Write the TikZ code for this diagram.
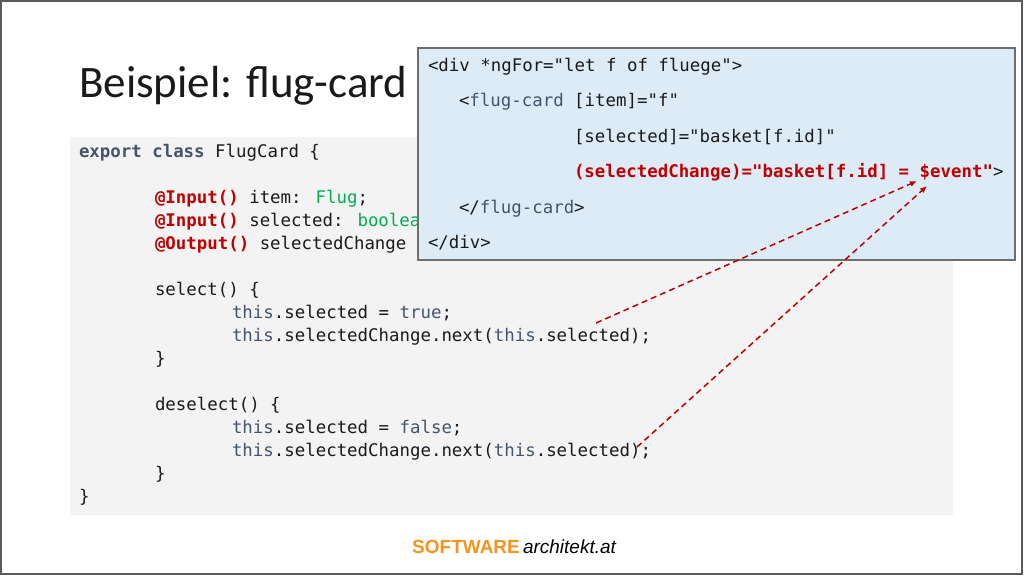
\documentclass[tikz,border=0pt]{standalone}
\usepackage{fontspec}
\usetikzlibrary{arrows.meta}
\newfontfamily\codefont{DejaVu Sans Mono}
\newfontfamily\titlefont{Carlito}
\newfontfamily\footfont{Liberation Sans}
\definecolor{kw}{HTML}{44546A}
\definecolor{redc}{HTML}{C00000}
\definecolor{greenc}{HTML}{00B050}
\definecolor{panel}{HTML}{F3F3F3}
\definecolor{boxblue}{HTML}{DDEBF7}
\definecolor{boxline}{HTML}{6E6E6E}
\definecolor{frame}{HTML}{5A5A5A}
\definecolor{orangec}{HTML}{F7941D}
\definecolor{txt}{HTML}{1A1A1A}
\tikzset{
  codeline/.style={anchor=base west, inner sep=0pt, outer sep=0pt, text=txt, font=\codefont\fontsize{17.4}{20}\selectfont},
  flowarrow/.style={draw=redc, line width=1.5pt, dash pattern=on 6pt off 4pt, -{Latex[length=7pt,width=6pt]}},
}
\newcommand{\kwd}[1]{\textcolor{kw}{#1}}
\newcommand{\kwb}[1]{\textcolor{kw}{\bfseries #1}}
\newcommand{\ann}[1]{\textcolor{redc}{\bfseries #1}}
\newcommand{\typ}[1]{\textcolor{greenc}{#1}}
\begin{document}
\begin{tikzpicture}[x=1pt,y=-1pt]
\useasboundingbox (0,0) rectangle (1024,576);
\fill[white] (0,0) rectangle (1024,576);
\draw[frame, line width=1.3pt] (1,1) rectangle (1022,574);

% title
\node[anchor=base west, inner sep=0pt, text=txt, font=\titlefont\fontsize{45}{50}\selectfont] (title) at (79,97) {Beispiel: flug-card};

% code panel
\fill[panel] (70,137) rectangle (953,515);
\node[codeline] (c1) at (79,157) {\kwb{export class} FlugCard \{};
\node[codeline] (c3) at (155,203) {\ann{@Input()} item: \typ{Flug};};
\node[codeline] (c4) at (155,226) {\ann{@Input()} selected: \typ{boolea}};
\node[codeline] (c5) at (155,249) {\ann{@Output()} selectedChange};
\node[codeline] (c7) at (155,295) {select() \{};
\node[codeline] (c8) at (232,318) {\kwd{this}.selected = \kwd{true};};
\node[codeline] (c9) at (232,341) {\kwd{this}.selectedChange.next(\kwd{this}.selected);};
\node[codeline] (c10) at (155,364) {\}};
\node[codeline] (c12) at (155,410) {deselect() \{};
\node[codeline] (c13) at (232,433) {\kwd{this}.selected = \kwd{false};};
\node[codeline] (c14) at (232,456) {\kwd{this}.selectedChange.next(\kwd{this}.selected);};
\node[codeline] (c15) at (155,479) {\}};
\node[codeline] (c16) at (79,502) {\}};

% template box
\draw[boxline, fill=boxblue, line width=1.3pt] (418,48) rectangle (1015,260);
\node[codeline] (t1) at (428,71) {<div *ngFor="let f of fluege">};
\node[codeline] (t2) at (459,106.5) {<\kwd{flug-card} [item]="f"};
\node[codeline] (t3) at (574,142) {[selected]="basket[f.id]"};
\node[codeline] (t4) at (574,177.5) {\ann{(selectedChange)="basket[f.id] = \$event"}>};
\node[codeline] (t5) at (459,213) {</\kwd{flug-card}>};
\node[codeline] (t6) at (428,248) {</div>};

% arrows
\coordinate (s1) at (596,323);
\coordinate (e1) at (917,181);
\coordinate (s2) at (637,447);
\coordinate (e2) at (927,186);
\draw[flowarrow] (s1) -- (e1);
\draw[flowarrow] (s2) -- (e2);

% footer
\node[anchor=base west, inner sep=0pt, font=\footfont\fontsize{19}{22}\selectfont] (foot) at (412,553) {\textcolor{orangec}{\bfseries SOFTWARE}\,\textcolor{black}{\itshape architekt.at}};
\end{tikzpicture}
\end{document}
